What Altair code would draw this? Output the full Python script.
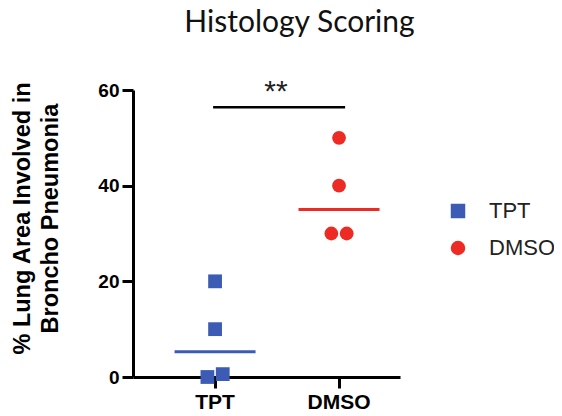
import altair as alt
import pandas as pd

# ---- data ----
groups = ["TPT", "TPT", "TPT", "TPT", "DMSO", "DMSO", "DMSO", "DMSO"]
values = [20, 10, 0, 0.6, 50, 40, 30, 30]
slots = ["mid", "mid", "left", "right", "mid", "mid", "left", "right"]
categories = ["TPT", "DMSO"]
y_ticks = [0, 20, 40, 60]
sig_from = ["TPT"]
sig_to = ["DMSO"]
sig_y = [56.4]
sig_label = ["**"]
sig_label_y = [59.6]
title_text = "Histology Scoring"
y_title = ["% Lung Area Involved in", "Broncho Pneumonia"]

colors = ["#3b5bb4", "#ed2b24"]
shapes = ["square", "circle"]

df = pd.DataFrame({"group": groups, "value": values, "slot": slots})
sig_df = pd.DataFrame({"a": sig_from, "b": sig_to, "y": sig_y, "label": sig_label, "ly": sig_label_y})

xscale = alt.Scale(domain=categories, paddingInner=0.016, paddingOuter=0.085, align=1)
yscale = alt.Scale(domain=[0, 60], nice=False)
cscale = alt.Scale(domain=categories, range=colors)
sscale = alt.Scale(domain=categories, range=shapes)

x_axis = alt.Axis(title=None, labelAngle=0)
y_axis = alt.Axis(title=y_title, values=y_ticks, grid=False)

legend = alt.Legend(title=None, orient="none", legendX=314, legendY=110)

base = alt.Chart(df)

points = base.mark_point(filled=True, size=190, opacity=1).encode(
    x=alt.X("group:N", scale=xscale, axis=x_axis, sort=categories),
    xOffset=alt.XOffset("slot:N", scale=alt.Scale(type="point", domain=["left", "mid", "right"], range=[49.5, 72.5])),
    y=alt.Y("value:Q", scale=yscale, axis=y_axis),
    color=alt.Color("group:N", scale=cscale, legend=legend),
    shape=alt.Shape("group:N", scale=sscale, legend=legend),
)

medians = base.transform_aggregate(med="median(value)", groupby=["group"]).mark_tick(
    size=81, thickness=3, opacity=1
).encode(
    x=alt.X("group:N", scale=xscale, axis=x_axis, sort=categories),
    y=alt.Y("med:Q", scale=yscale, axis=y_axis),
    color=alt.Color("group:N", scale=cscale, legend=legend),
)

sig_rule = alt.Chart(sig_df).mark_rule(color="black", strokeWidth=2.5).encode(
    x=alt.X("a:N", scale=xscale, axis=x_axis, bandPosition=0.484),
    x2=alt.X2("b:N", bandPosition=0.55),
    y=alt.Y("y:Q", scale=yscale, axis=y_axis),
)

sig_text = alt.Chart(sig_df).mark_text(font="Liberation Sans", fontSize=30, color="#222222",
                                       baseline="middle").encode(
    x=alt.X("a:N", scale=xscale, bandPosition=1.0, axis=x_axis),
    y=alt.Y("ly:Q", scale=yscale, axis=y_axis),
    text="label:N",
)

chart = alt.layer(medians, points, sig_rule, sig_text).properties(
    width=267, height=287,
    autosize=alt.AutoSizeParams(type="none"),
    padding={"left": 125, "top": 82, "right": 154, "bottom": 36},
    title=alt.TitleParams(title_text, font="Lato", fontSize=30, fontWeight="normal", color="#111111",
                          anchor="middle", dx=33, offset=39),
).configure_view(stroke=None).configure_axis(
    labelFont="Liberation Sans", labelFontWeight="bold", labelColor="black",
    domainColor="black", domainWidth=3, tickColor="black", tickWidth=3, tickSize=11,
    titleFont="Liberation Sans", titleFontWeight="bold", titleColor="black",
).configure_axisX(
    labelFontSize=21, labelPadding=3,
).configure_axisY(
    labelFontSize=19, labelPadding=3, titleFontSize=23.5, titleLineHeight=28, titleAngle=-90,
    titleX=-123, titleY=128, titleAlign="center", titleBaseline="top",
).configure_legend(
    labelFont="Liberation Sans", labelFontSize=22, labelColor="#222222", symbolSize=210,
    rowPadding=15, padding=0, labelOffset=20, symbolStrokeWidth=0,
)

chart.save("out.html", embed_options={"renderer": "svg", "actions": False})
